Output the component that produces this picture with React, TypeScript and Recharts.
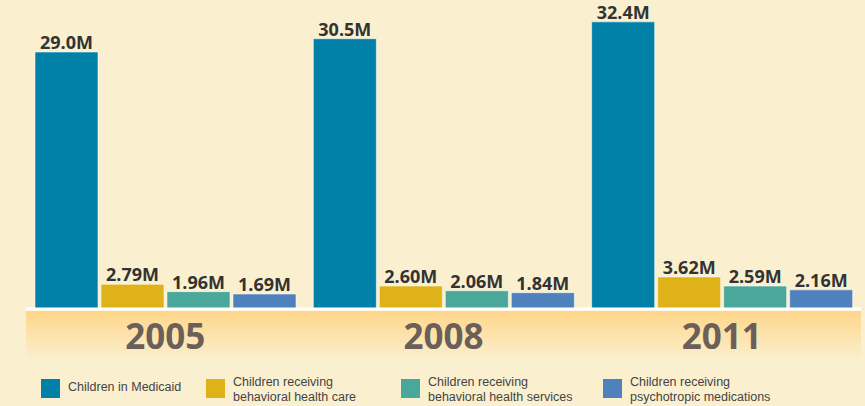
import React from 'react';
import { BarChart, Bar, XAxis, YAxis, LabelList } from 'recharts';

const years = ['2005', '2008', '2011'];
const medicaid = [29.0, 30.5, 32.4];
const behavioralCare = [2.79, 2.6, 3.62];
const behavioralServices = [1.96, 2.06, 2.59];
const psychotropic = [1.69, 1.84, 2.16];

const seriesKeys = ['medicaid', 'care', 'services', 'psych'];
const seriesDecimals = [1, 2, 2, 2];
const seriesColors = ['#0181A7', '#E0B219', '#49A899', '#4F81BD'];
const seriesNames = [
  ['Children in Medicaid'],
  ['Children receiving', 'behavioral health care'],
  ['Children receiving', 'behavioral health services'],
  ['Children receiving', 'psychotropic medications'],
];
const legendX = [41, 206, 401, 603];

const data = years.map((y, i) => ({
  year: y,
  medicaid: medicaid[i],
  care: behavioralCare[i],
  services: behavioralServices[i],
  psych: psychotropic[i],
}));

const BG = '#FAF0D0';
const FONT = '"Open Sans", Lato, sans-serif';
const LEGEND_FONT = '"Liberation Sans", Arial, sans-serif';
const W = 865;
const H = 406;
const M = { top: 10, left: 26, right: 4, bottom: 37 };
const bandW = (W - M.left - M.right) / years.length;

const YearTick = (props: any) => {
  const { x, y, payload, index } = props;
  return (
    <g>
      {index === 0 && (
        <rect x={x - bandW / 2} y={y + 2} width={bandW * years.length} height={50} fill="url(#bandGrad)" />
      )}
      <text
        x={x}
        y={y + 40}
        textAnchor="middle"
        fontFamily={FONT}
        fontWeight={700}
        fontSize={35}
        fill="#6B6059"
      >
        {payload.value}
      </text>
    </g>
  );
};

export default function App() {
  return (
    <div style={{ position: 'fixed', left: 0, top: 0, width: W, height: H, background: BG, overflow: 'hidden' }}>
      <BarChart width={W} height={H} data={data} margin={M} barCategoryGap={9} barGap={3}>
        <defs>
          <linearGradient id="bandGrad" x1="0" y1="0" x2="0" y2="1">
            <stop offset="0%" stopColor="#FFD68A" />
            <stop offset="100%" stopColor={BG} />
          </linearGradient>
        </defs>
        <YAxis hide domain={[0, 33.74]} />
        <XAxis
          dataKey="year"
          height={60}
          axisLine={{ stroke: '#FFFFFF', strokeWidth: 3 }}
          tickLine={false}
          tickSize={0}
          tickMargin={0}
          tick={<YearTick />}
          interval={0}
        />
        {seriesKeys.map((k, si) => (
          <Bar
            key={k}
            dataKey={k}
            fill={seriesColors[si]}
            stroke="rgba(255,255,255,0.55)"
            strokeWidth={1}
            isAnimationActive={false}
          >
            <LabelList
              dataKey={k}
              position="top"
              offset={3}
              formatter={(v: any) => Number(v).toFixed(seriesDecimals[si]) + 'M'}
              style={{ fontFamily: FONT, fontWeight: 700, fontSize: 18, fill: '#333333' }}
            />
          </Bar>
        ))}
      </BarChart>
      {seriesNames.map((lines, i) => (
        <div key={i} style={{ position: 'absolute', left: legendX[i], top: 379 }}>
          <div style={{ position: 'absolute', left: 0, top: 0, width: 19, height: 19, background: seriesColors[i] }} />
          <div
            style={{
              position: 'absolute',
              left: 27,
              top: lines.length === 1 ? 1 : -4,
              fontFamily: LEGEND_FONT,
              fontSize: 12.5,
              lineHeight: '15px',
              color: '#444',
              whiteSpace: 'nowrap',
            }}
          >
            {lines.map((l, j) => (
              <div key={j}>{l}</div>
            ))}
          </div>
        </div>
      ))}
    </div>
  );
}
